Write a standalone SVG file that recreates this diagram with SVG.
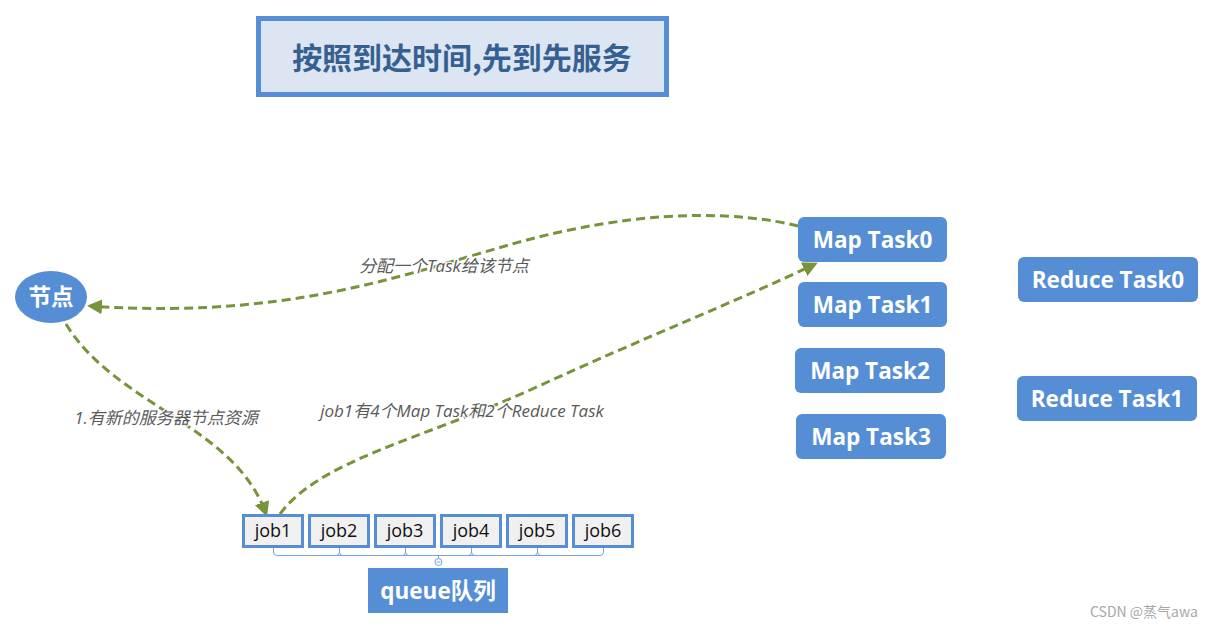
<svg xmlns="http://www.w3.org/2000/svg" width="1214" height="630" viewBox="0 0 1214 630">
<style>
.cjk{font-family:"Noto Sans CJK SC","Open Sans",sans-serif}
.box{fill:#558ed5}
.wt{fill:#ffffff;font-weight:bold;font-size:22.5px;text-anchor:middle;font-family:"Open Sans","Noto Sans CJK SC",sans-serif}
.job{fill:#f0f0f0;stroke:#558ed5;stroke-width:3}
.jt{fill:#111;font-size:18px;text-anchor:middle;font-family:"Open Sans","Noto Sans CJK SC",sans-serif}
.conn{fill:none;stroke:#77933c;stroke-width:3;stroke-dasharray:9 5}
.lbl{fill:#595959;font-size:17px;font-style:italic;text-anchor:middle;font-family:"Open Sans","Noto Sans CJK SC",sans-serif;stroke:#ffffff;stroke-width:3;stroke-opacity:0.85;paint-order:stroke;stroke-linejoin:round}
</style>
<defs>
<marker id="arr" viewBox="0 0 10 10" refX="8" refY="5" markerWidth="5" markerHeight="5" orient="auto" markerUnits="strokeWidth">
<path d="M0,0 L10,5 L0,10 z" fill="#77933c"/>
</marker>
</defs>
<rect width="1214" height="630" fill="#ffffff"/>
<g id="title">
<rect x="258.5" y="18.5" width="408" height="76" fill="#dce6f2" stroke="#558ed5" stroke-width="5"/>
<text x="462" y="69" class="cjk" font-size="30" font-weight="bold" fill="#376092" text-anchor="middle">按照到达时间,先到先服务</text>
</g>
<g id="connectors">
<path class="conn" d="M798,226 C740,212 660,210 560,232 C440,258 320,322 90,306" marker-end="url(#arr)"/>
<path class="conn" d="M66,324 C115,405 235,425 266,514" marker-end="url(#arr)"/>
<path class="conn" d="M280,514 C320,460 420,440 530,390 C650,335 740,300 815,264" marker-end="url(#arr)"/>
<g id="labels">
<text x="444" y="272" class="lbl cjk">分配一个Task给该节点</text>
<text x="166" y="424" class="lbl cjk">1.有新的服务器节点资源</text>
<text x="462" y="417" class="lbl cjk">job1有4个Map Task和2个Reduce Task</text>
</g>
</g>
<g id="node-jiedian">
<ellipse cx="51" cy="297" rx="36" ry="26" class="box"/>
<text x="51" y="305" class="wt cjk" font-size="21">节点</text>
</g>
<g id="map0"><rect x="798" y="217" width="149" height="45" rx="6" class="box"/><text x="872.5" y="248" class="wt">Map Task0</text></g>
<g id="map1"><rect x="798" y="282" width="149" height="45" rx="6" class="box"/><text x="872.5" y="313" class="wt">Map Task1</text></g>
<g id="map2"><rect x="795" y="348" width="150" height="45" rx="6" class="box"/><text x="870" y="379" class="wt">Map Task2</text></g>
<g id="map3"><rect x="796" y="414" width="150" height="45" rx="6" class="box"/><text x="871" y="445" class="wt">Map Task3</text></g>
<g id="reduce0"><rect x="1018" y="257" width="180" height="45" rx="6" class="box"/><text x="1108" y="288" class="wt">Reduce Task0</text></g>
<g id="reduce1"><rect x="1017" y="376" width="180" height="45" rx="6" class="box"/><text x="1107" y="407" class="wt">Reduce Task1</text></g>
<g id="jobs">
<g id="job1"><rect x="243.5" y="515.5" width="59" height="31" class="job"/><text x="273" y="537" class="jt">job1</text></g>
<g id="job2"><rect x="309.5" y="515.5" width="59" height="31" class="job"/><text x="339" y="537" class="jt">job2</text></g>
<g id="job3"><rect x="375.5" y="515.5" width="59" height="31" class="job"/><text x="405" y="537" class="jt">job3</text></g>
<g id="job4"><rect x="441.5" y="515.5" width="59" height="31" class="job"/><text x="471" y="537" class="jt">job4</text></g>
<g id="job5"><rect x="507.5" y="515.5" width="59" height="31" class="job"/><text x="537" y="537" class="jt">job5</text></g>
<g id="job6"><rect x="573.5" y="515.5" width="59" height="31" class="job"/><text x="603" y="537" class="jt">job6</text></g>
</g>
<g id="bracket" fill="none" stroke="#7fa3d8" stroke-width="1">
<path d="M273.5,548 V552 Q273.5,555.5 277,555.5 H600 Q603.5,555.5 603.5,552 V548"/>
<path d="M339.5,548 V552 Q339.5,555.5 343,555.5 M339.5,552 Q339.5,555.5 336,555.5"/>
<path d="M405.5,548 V552 Q405.5,555.5 409,555.5 M405.5,552 Q405.5,555.5 402,555.5"/>
<path d="M471.5,548 V552 Q471.5,555.5 475,555.5 M471.5,552 Q471.5,555.5 468,555.5"/>
<path d="M537.5,548 V552 Q537.5,555.5 541,555.5 M537.5,552 Q537.5,555.5 534,555.5"/>
<path d="M438.5,555.5 V558"/>
<circle cx="438.5" cy="562" r="3.5" fill="#ffffff"/>
<path d="M436.5,562 H440.5"/>
</g>
<g id="queue">
<rect x="368" y="568" width="140" height="45" class="box"/>
<text x="438" y="599" class="wt cjk" font-size="21">queue队列</text>
</g>
<text x="1144" y="617" class="cjk" font-size="14" fill="#a8a8a8" text-anchor="middle">CSDN @蒸气awa</text>
</svg>
